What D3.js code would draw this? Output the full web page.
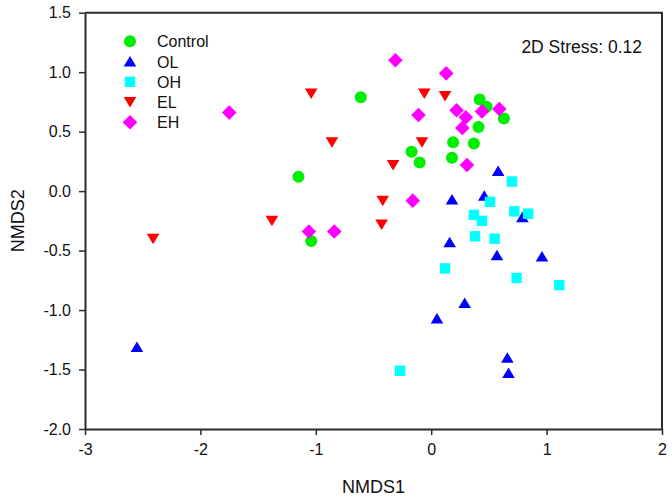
<!DOCTYPE html>
<html>
<head>
<meta charset="utf-8">
<script src="https://cdn.jsdelivr.net/npm/d3@7"></script>
<style>
  html, body { margin: 0; padding: 0; background: #fff; }
  svg { display: block; font-family: "Liberation Sans", Arial, sans-serif; }
</style>
</head>
<body>
<svg id="chart" width="672" height="501"></svg>
<script>
// ---- data ----
const groups = ["Control", "OL", "OH", "EL", "EH"];
const groupColors = ["#00ee00", "#0000ff", "#00ffff", "#ff0000", "#ff00ff"];
const groupShapes = ["circle", "triangleUp", "square", "triangleDown", "diamond"];

const controlX = [-1.15, -1.04, -0.61, 0.42, 0.48, 0.63, 0.41, 0.19, 0.37, -0.17, -0.10, 0.18];
const controlY = [0.12, -0.42, 0.79, 0.77, 0.71, 0.61, 0.54, 0.41, 0.40, 0.33, 0.24, 0.28];

const olX = [-2.55, 0.58, 0.18, 0.46, 0.79, 0.16, 0.57, 0.96, 0.29, 0.05, 0.66, 0.67];
const olY = [-1.31, 0.17, -0.07, -0.04, -0.22, -0.43, -0.54, -0.55, -0.94, -1.07, -1.40, -1.53];

const ohX = [0.70, 0.51, 0.37, 0.44, 0.72, 0.84, 0.38, 0.55, 0.12, 0.74, 1.11, -0.27];
const ohY = [0.08, -0.09, -0.20, -0.25, -0.17, -0.19, -0.38, -0.40, -0.65, -0.73, -0.79, -1.51];

const elX = [-1.04, -0.86, -1.38, -2.41, -0.06, 0.12, -0.08, -0.33, -0.42, -0.43];
const elY = [0.82, 0.41, -0.25, -0.40, 0.82, 0.80, 0.41, 0.22, -0.08, -0.28];

const ehX = [-1.75, -1.06, -0.84, -0.31, 0.13, -0.11, 0.22, 0.30, 0.44, 0.59, 0.27, 0.31, -0.16];
const ehY = [0.66, -0.34, -0.34, 1.10, 0.99, 0.64, 0.68, 0.62, 0.67, 0.69, 0.53, 0.22, -0.08];

const xTicks = [-3, -2, -1, 0, 1, 2];
const yTicks = [-2.0, -1.5, -1.0, -0.5, 0.0, 0.5, 1.0, 1.5];
const stressLabel = "2D Stress: 0.12";
const xTitle = "NMDS1";
const yTitle = "NMDS2";

const seriesX = [controlX, olX, ohX, elX, ehX];
const seriesY = [controlY, olY, ohY, elY, ehY];

// ---- layout ----
const svg = d3.select("#chart");
const pLeft = 85, pRight = 662, pTop = 12.7, pBottom = 429;
const x = d3.scaleLinear().domain([-3, 2]).range([pLeft, pRight]);
const y = d3.scaleLinear().domain([-2, 1.5]).range([pBottom, pTop]);
const frameColor = "#2b2b2b";

function shapePath(shape) {
  switch (shape) {
    case "circle": return "M6,0A6,6 0 1,1 -6,0A6,6 0 1,1 6,0Z";
    case "triangleUp": return "M0,-5.5L6.3,5L-6.3,5Z";
    case "triangleDown": return "M0,5.5L6.3,-5L-6.3,-5Z";
    case "square": return "M-5.2,-5.2H5.2V5.2H-5.2Z";
    case "diamond": return "M0,-7.3L7.3,0L0,7.3L-7.3,0Z";
  }
}

// points
groups.forEach((g, i) => {
  const pts = seriesX[i].map((v, j) => ({ x: v, y: seriesY[i][j] }));
  svg.append("g").attr("class", "series-" + g)
    .selectAll("path").data(pts).join("path")
    .attr("d", shapePath(groupShapes[i]))
    .attr("transform", d => `translate(${x(d.x)},${y(d.y)})`)
    .attr("fill", groupColors[i]);
});

// frame top & right
svg.append("path")
  .attr("d", `M${pLeft},${pTop}H${pRight}V${pBottom}`)
  .attr("fill", "none").attr("stroke", frameColor).attr("stroke-width", 2);

// axes (hyphen-minus like the original)
const hy = f => (d => f(d).replace("\u2212", "-"));
const xAxis = d3.axisBottom(x).tickValues(xTicks).tickFormat(hy(d3.format("d"))).tickSize(6).tickSizeOuter(0).tickPadding(9);
const yAxis = d3.axisLeft(y).tickValues(yTicks).tickFormat(hy(d3.format(".1f"))).tickSize(6).tickSizeOuter(0).tickPadding(8);

const gx = svg.append("g").attr("transform", `translate(0,${pBottom})`).call(xAxis);
const gy = svg.append("g").attr("transform", `translate(${pLeft},0)`).call(yAxis);
[gx, gy].forEach(g => {
  g.select(".domain").attr("stroke", frameColor).attr("stroke-width", 2);
  g.selectAll(".tick line").attr("stroke", frameColor).attr("stroke-width", 1.5);
  g.selectAll(".tick text").attr("fill", "#111").style("font-size", "16px")
    .style("font-family", '"Liberation Sans", Arial, sans-serif');
});
gx.selectAll(".tick text").attr("dy", "0.71em");

// axis titles
svg.append("text").attr("x", (pLeft + pRight) / 2).attr("y", 493)
  .attr("text-anchor", "middle").style("font-size", "18px").attr("fill", "#111").text(xTitle);
svg.append("text").attr("transform", `translate(24,${(pTop + pBottom) / 2}) rotate(-90)`)
  .attr("text-anchor", "middle").style("font-size", "18px").attr("fill", "#111").text(yTitle);

// stress label
svg.append("text").attr("x", 642).attr("y", 52.5).attr("text-anchor", "end")
  .style("font-size", "17.5px").attr("fill", "#111").text(stressLabel);

// legend
const legend = svg.append("g");
groups.forEach((g, i) => {
  const cy = 41.3 + i * 20.25;
  legend.append("path").attr("d", shapePath(groupShapes[i]))
    .attr("transform", `translate(130,${cy})`).attr("fill", groupColors[i]);
  legend.append("text").attr("x", 157).attr("y", cy + 6)
    .style("font-size", "16px").attr("fill", "#111").text(g);
});
</script>
</body>
</html>
